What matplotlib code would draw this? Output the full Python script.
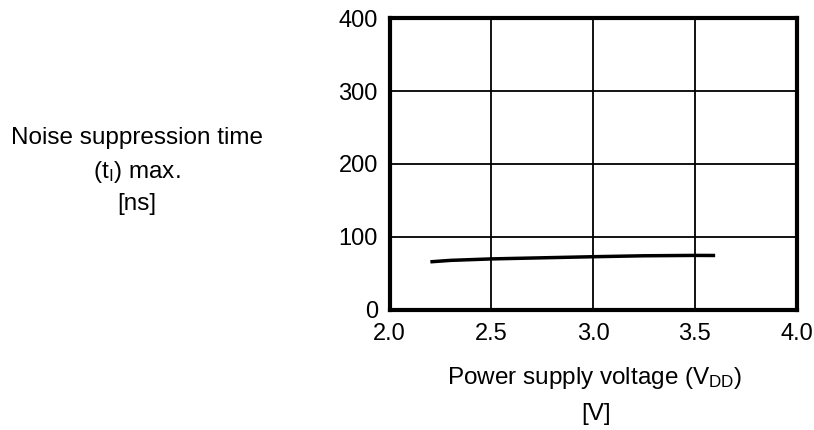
import matplotlib
matplotlib.use("Agg")
import matplotlib.pyplot as plt

plt.rcParams['font.family'] = ['Liberation Sans', 'DejaVu Sans']
plt.rcParams['mathtext.fontset'] = 'custom'
plt.rcParams['mathtext.rm'] = 'Liberation Sans'
plt.rcParams['mathtext.it'] = 'Liberation Sans'

# data
vdd = [2.2, 2.3, 2.5, 2.75, 3.0, 3.25, 3.5, 3.6]
t_noise = [65.5, 67.5, 69.5, 71, 72.5, 73.8, 74.3, 74.2]

x_ticks = [2.0, 2.5, 3.0, 3.5, 4.0]
y_ticks = [0, 100, 200, 300, 400]

W, H = 814, 430
fig = plt.figure(figsize=(W / 100, H / 100), dpi=100)
# axes box in pixels: left 390, right 796.5, top 18.3, bottom 309.5
ax = fig.add_axes([389.7 / W, 1 - 309.5 / H, (796.5 - 389.7) / W, (309.5 - 18.3) / H])

ax.plot(vdd, t_noise, color='black', lw=2.5, solid_capstyle='butt')

ax.set_xlim(2.0, 4.0)
ax.set_ylim(0, 400)
ax.set_xticks(x_ticks)
ax.set_xticklabels([f"{v:.1f}" for v in x_ticks])
ax.set_yticks(y_ticks)
ax.grid(True, color='black', lw=1.3)
ax.tick_params(length=0, labelsize=17)
ax.tick_params(axis='x', pad=10)
ax.tick_params(axis='y', pad=8.5)
for s in ax.spines.values():
    s.set_linewidth(3)

# axis titles
fs = 17.5
fig.text(137 / W, 1 - 138 / H, "Noise suppression time", ha='center', va='center', fontsize=fs)
fig.text(137 / W, 1 - 172 / H, r"($\mathregular{t_I}$) max.", ha='center', va='center', fontsize=fs)
fig.text(137 / W, 1 - 204 / H, "[ns]", ha='center', va='center', fontsize=fs)
fig.text(595 / W, 1 - 378 / H, r"Power supply voltage ($\mathregular{V_{DD}}$)", ha='center', va='center', fontsize=fs)
fig.text(596 / W, 1 - 414 / H, "[V]", ha='center', va='center', fontsize=fs)

fig.savefig("out.png", dpi=100)
